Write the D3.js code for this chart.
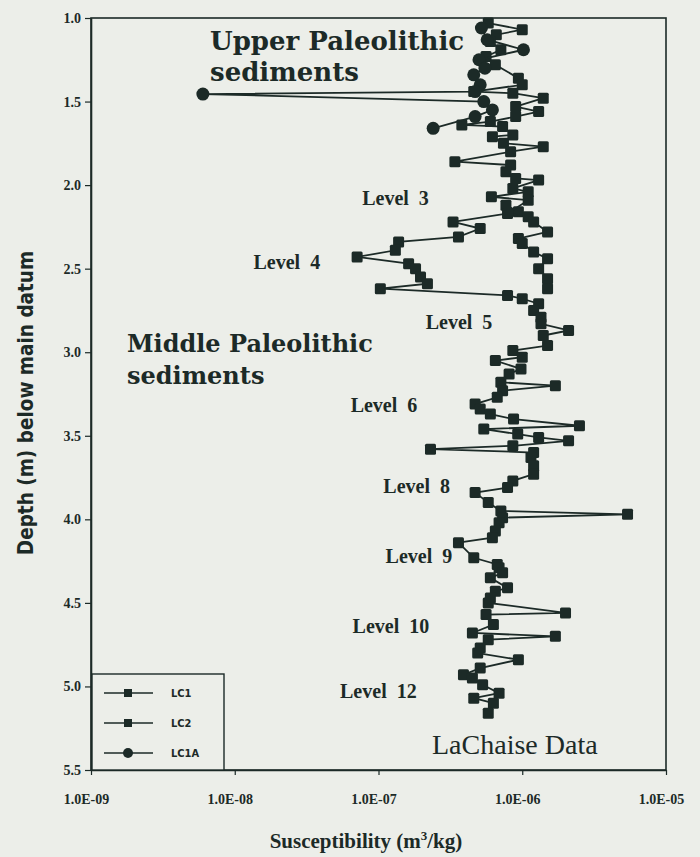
<!DOCTYPE html>
<html>
<head>
<meta charset="utf-8">
<script src="https://cdn.jsdelivr.net/npm/d3@7/dist/d3.min.js"></script>
<style>
  body { margin: 0; background: #eceee9; }
  svg { display: block; }
</style>
</head>
<body>
<div id="chart-area"></div>
<script>

// depth (m) and susceptibility (m3/kg)
var lc1Depth = [2.12, 2.16, 2.22, 2.26, 2.31, 2.34, 2.39, 2.43, 2.47, 2.50, 2.55, 2.59, 2.62, 2.66, 2.68,
  2.71, 2.75, 2.79, 2.83, 2.87, 2.90, 2.96, 2.99, 3.03, 3.05, 3.10, 3.13, 3.18, 3.20, 3.23, 3.27, 3.31,
  3.34, 3.37, 3.40, 3.44, 3.46, 3.49, 3.51, 3.53, 3.56, 3.58, 3.60, 3.63, 3.68, 3.73, 3.77, 3.81, 3.84,
  3.90, 3.95, 3.97, 3.99, 4.02, 4.07, 4.11, 4.14, 4.23, 4.27, 4.29, 4.32, 4.35, 4.41, 4.43, 4.47, 4.50,
  4.56, 4.57, 4.63, 4.68, 4.70, 4.72, 4.77, 4.80, 4.84, 4.89, 4.93, 4.95, 4.99, 5.04, 5.07, 5.10, 5.16];
var lc1Value = [7.7e-7, 9.4e-7, 3.3e-7, 5.1e-7, 3.6e-7, 1.38e-7, 1.31e-7, 7.1e-8, 1.62e-7, 1.81e-7, 1.96e-7, 2.19e-7, 1.03e-7, 7.9e-7, 1.0e-6,
  1.3e-6, 1.2e-6, 1.35e-6, 1.35e-6, 2.1e-6, 1.4e-6, 1.5e-6, 8.6e-7, 1.0e-6, 6.5e-7, 9.8e-7, 8.1e-7, 7.1e-7, 1.7e-6, 7.3e-7, 6.7e-7, 4.7e-7,
  5.1e-7, 6.0e-7, 8.7e-7, 2.5e-6, 5.4e-7, 9.3e-7, 1.3e-6, 2.1e-6, 8.6e-7, 2.3e-7, 1.2e-6, 1.15e-6, 1.2e-6, 1.2e-6, 8.6e-7, 7.9e-7, 4.7e-7,
  5.8e-7, 7.1e-7, 5.4e-6, 7.3e-7, 6.9e-7, 6.5e-7, 6.2e-7, 3.6e-7, 4.6e-7, 6.7e-7, 6.9e-7, 7.3e-7, 6.0e-7, 7.9e-7, 6.5e-7, 6.0e-7, 5.8e-7,
  2.0e-6, 5.6e-7, 6.3e-7, 4.5e-7, 1.7e-6, 5.8e-7, 5.1e-7, 4.9e-7, 9.4e-7, 5.1e-7, 3.9e-7, 4.5e-7, 5.3e-7, 6.9e-7, 4.6e-7, 6.3e-7, 5.8e-7];

var lc2Depth = [1.03, 1.07, 1.10, 1.14, 1.19, 1.23, 1.28, 1.36, 1.40, 1.44, 1.45, 1.48, 1.53, 1.56, 1.59,
  1.62, 1.64, 1.65, 1.70, 1.71, 1.75, 1.77, 1.80, 1.86, 1.88, 1.92, 1.96, 1.97, 2.02, 2.04, 2.07, 2.09,
  2.17, 2.19, 2.22, 2.28, 2.32, 2.35, 2.40, 2.44, 2.50, 2.56, 2.62];
var lc2Value = [5.8e-7, 1.0e-6, 6.6e-7, 6.0e-7, 7.1e-7, 5.6e-7, 6.5e-7, 9.4e-7, 1.0e-6, 4.6e-7, 8.6e-7, 1.4e-6, 9.0e-7, 1.3e-6, 9.0e-7,
  6.0e-7, 3.8e-7, 7.3e-7, 8.6e-7, 6.2e-7, 7.4e-7, 1.4e-6, 8.3e-7, 3.4e-7, 8.3e-7, 7.7e-7, 9.0e-7, 1.3e-6, 8.6e-7, 1.1e-6, 6.1e-7, 1.1e-6,
  7.9e-7, 1.1e-6, 1.2e-6, 1.5e-6, 9.4e-7, 1.0e-6, 1.2e-6, 1.5e-6, 1.3e-6, 1.5e-6, 1.5e-6];

var lc1aDepth = [1.06, 1.13, 1.19, 1.25, 1.30, 1.34, 1.40, 1.44, 1.455, 1.50, 1.55, 1.59, 1.66];
var lc1aValue = [5.2e-7, 5.7e-7, 1.02e-6, 5.0e-7, 5.5e-7, 4.6e-7, 5.1e-7, 4.7e-7, 6.0e-9, 5.4e-7, 6.2e-7, 4.7e-7, 2.4e-7];

var depthTicks = [1.0, 1.5, 2.0, 2.5, 3.0, 3.5, 4.0, 4.5, 5.0, 5.5];
var suscTicks = [1e-9, 1e-8, 1e-7, 1e-6, 1e-5];

var seriesNames = ["LC1", "LC2", "LC1A"];
var seriesShapes = ["square", "square", "circle"];

var levelNames = ["Level  3", "Level  4", "Level  5", "Level  6", "Level  8", "Level  9", "Level  10", "Level  12"];
var levelDepths = [2.12, 2.50, 2.86, 3.36, 3.84, 4.26, 4.68, 5.07];
var levelSusc = [7.7e-8, 1.35e-8, 2.13e-7, 6.4e-8, 1.08e-7, 1.12e-7, 6.6e-8, 5.4e-8];

var ink = "#1c2a27";
var width = 700, height = 857;
var plot = {left: 91, right: 666, top: 18, bottom: 770};

var svg = d3.select("#chart-area")
  .append("svg")
    .attr("width", width)
    .attr("height", height)
    .style("background-color", "#eceee9");

var x = d3.scaleLog()
  .domain([1e-9, 1e-5])
  .range([plot.left, plot.right]);

var y = d3.scaleLinear()
  .domain([1.0, 5.5])
  .range([plot.top, plot.bottom]);

// frame
svg.append("rect")
  .attr("x", plot.left)
  .attr("y", plot.top)
  .attr("width", plot.right - plot.left)
  .attr("height", plot.bottom - plot.top)
  .attr("fill", "none")
  .attr("stroke", ink)
  .attr("stroke-width", 1.6);

var leftAxis = d3.axisLeft(y)
  .tickValues(depthTicks)
  .tickFormat(d3.format(".1f"))
  .tickSize(6)
  .tickSizeOuter(0);

var bottomAxis = d3.axisBottom(x)
  .tickValues(suscTicks)
  .tickFormat((d) => { return "1.0E-" + String(Math.round(-Math.log10(d))).padStart(2, "0"); })
  .tickSize(5)
  .tickSizeOuter(0);

var yAxisGroup = svg.append("g")
  .attr("transform", "translate(" + plot.left + ",0)")
  .call(leftAxis);
yAxisGroup.select(".domain").attr("stroke", ink).attr("stroke-width", 1.6);
yAxisGroup.selectAll(".tick line").attr("stroke", ink).attr("stroke-width", 1.2);
yAxisGroup.selectAll(".tick text")
  .attr("x", -10)
  .attr("fill", ink)
  .style("font-family", "'Liberation Serif', 'DejaVu Serif', serif")
  .style("font-weight", "bold")
  .style("font-size", "14px");

var xAxisGroup = svg.append("g")
  .attr("transform", "translate(0," + plot.bottom + ")")
  .call(bottomAxis);
xAxisGroup.select(".domain").attr("stroke", ink).attr("stroke-width", 1.6);
xAxisGroup.selectAll(".tick line").attr("stroke", ink).attr("stroke-width", 1.2);
xAxisGroup.selectAll(".tick text")
  .attr("y", 24)
  .attr("dx", -5)
  .attr("fill", ink)
  .style("font-family", "'Liberation Serif', 'DejaVu Serif', serif")
  .style("font-weight", "bold")
  .style("font-size", "14px");

// axis titles
var xTitle = svg.append("text")
  .attr("x", 366)
  .attr("y", 848)
  .attr("text-anchor", "middle")
  .attr("fill", ink)
  .style("font-family", "'Liberation Serif', serif")
  .style("font-weight", "bold")
  .style("font-size", "21px");
xTitle.append("tspan").text("Susceptibility (m");
xTitle.append("tspan").attr("dy", -8).style("font-size", "13px").text("3");
xTitle.append("tspan").attr("dy", 8).text("/kg)");

svg.append("text")
  .attr("transform", "translate(33," + 403 + ") rotate(-90)")
  .attr("text-anchor", "middle")
  .attr("fill", ink)
  .style("font-family", "'Liberation Sans Narrow', 'DejaVu Sans Condensed', sans-serif")
  .style("font-weight", "bold")
  .style("font-size", "20.5px")
  .text("Depth (m) below main datum");

// annotations
var bigFont = "'DejaVu Serif', 'Liberation Serif', serif";
function bigText(tx, ty, str, size) {
  svg.append("text")
    .attr("x", tx).attr("y", ty)
    .attr("fill", ink)
    .style("font-family", bigFont)
    .style("font-weight", "bold")
    .style("font-size", size + "px")
    .text(str);
}
bigText(210, 50, "Upper Paleolithic", 26);
bigText(210, 81, "sediments", 26);
bigText(127, 352, "Middle Paleolithic", 24);
bigText(127, 384, "sediments", 24);

svg.selectAll(".level")
  .data(levelNames)
  .enter()
  .append("text")
    .attr("class", "level")
    .attr("x", (d, i) => { return x(levelSusc[i]); })
    .attr("y", (d, i) => { return y(levelDepths[i]); })
    .attr("fill", ink)
    .attr("xml:space", "preserve")
    .style("white-space", "pre")
    .style("font-family", "'Liberation Serif', serif")
    .style("font-weight", "bold")
    .style("font-size", "20px")
    .text((d) => { return d; });

svg.append("text")
  .attr("x", 432)
  .attr("y", 754)
  .attr("fill", ink)
  .style("font-family", "'Liberation Serif', serif")
  .style("font-size", "28px")
  .text("LaChaise Data");

// series
var seriesData = [
  lc1Depth.map((d, i) => { return {depth: d, value: lc1Value[i]}; }),
  lc2Depth.map((d, i) => { return {depth: d, value: lc2Value[i]}; }),
  lc1aDepth.map((d, i) => { return {depth: d, value: lc1aValue[i]}; })
];

var line = d3.line()
  .x((d) => { return x(d.value); })
  .y((d) => { return y(d.depth); });

seriesData.forEach((data, s) => {
  var grp = svg.append("g").attr("class", "series-" + seriesNames[s]);
  grp.append("path")
    .datum(data)
    .attr("d", line)
    .attr("fill", "none")
    .attr("stroke", ink)
    .attr("stroke-width", 1.8);
  if (seriesShapes[s] === "square") {
    grp.selectAll("rect")
      .data(data)
      .enter()
      .append("rect")
        .attr("x", (d) => { return x(d.value) - 5.5; })
        .attr("y", (d) => { return y(d.depth) - 5.5; })
        .attr("width", 11)
        .attr("height", 11)
        .attr("rx", 1.5)
        .attr("fill", ink);
  } else {
    grp.selectAll("circle")
      .data(data)
      .enter()
      .append("circle")
        .attr("cx", (d) => { return x(d.value); })
        .attr("cy", (d) => { return y(d.depth); })
        .attr("r", 6.5)
        .attr("fill", ink);
  }
});

// legend
var legend = svg.append("g");
legend.append("rect")
  .attr("x", 92).attr("y", 674)
  .attr("width", 132).attr("height", 96)
  .attr("fill", "#eceee9")
  .attr("stroke", ink)
  .attr("stroke-width", 1.4);

var rows = legend.selectAll(".row")
  .data(seriesNames)
  .enter()
  .append("g")
    .attr("class", "row")
    .attr("transform", (d, i) => { return "translate(0," + (693 + i * 30) + ")"; });
rows.append("line")
  .attr("x1", 104).attr("x2", 153)
  .attr("stroke", ink).attr("stroke-width", 1.6);
rows.filter((d, i) => { return seriesShapes[i] === "square"; })
  .append("rect")
    .attr("x", 124).attr("y", -4).attr("width", 8).attr("height", 8)
    .attr("fill", ink);
rows.filter((d, i) => { return seriesShapes[i] === "circle"; })
  .append("circle")
    .attr("cx", 128).attr("r", 5)
    .attr("fill", ink);
rows.append("text")
  .attr("x", 171).attr("y", 4)
  .attr("fill", ink)
  .style("font-family", "'Liberation Sans Narrow', 'DejaVu Sans Condensed', sans-serif")
  .style("font-weight", "bold")
  .style("font-size", "11px")
  .text((d) => { return d; });

</script>
</body>
</html>
